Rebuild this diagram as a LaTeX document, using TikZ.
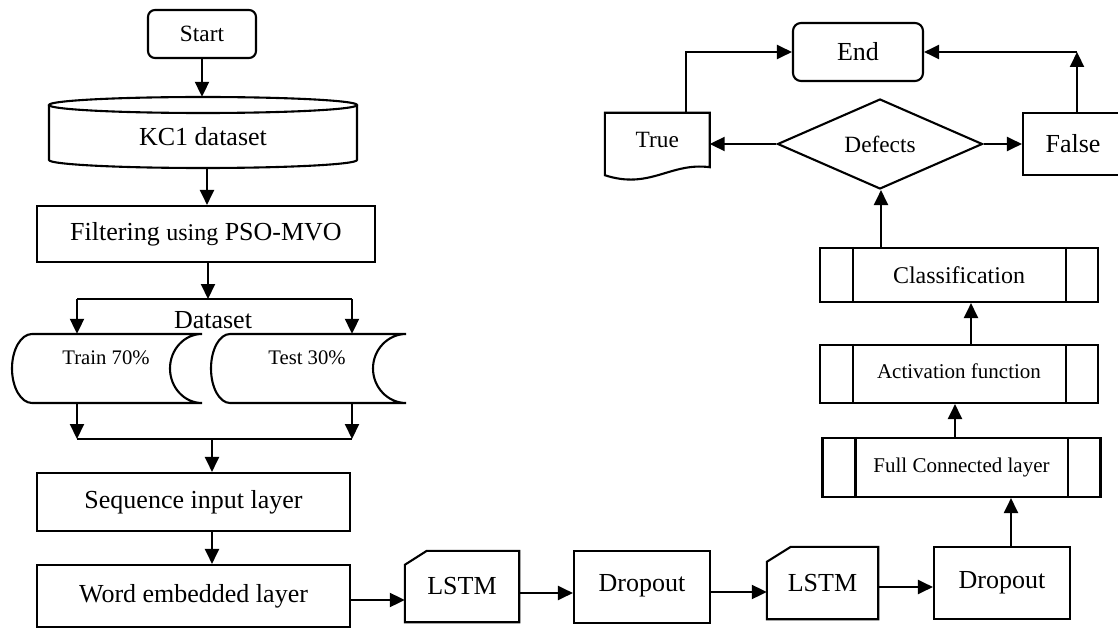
\documentclass[tikz,border=0pt]{standalone}
\usepackage{fontspec}
\setmainfont{Liberation Serif}
\usetikzlibrary{arrows.meta,shapes.geometric,calc}
\begin{document}
\begin{tikzpicture}[x=1pt,y=-1pt,
  ln/.style={line width=2.1pt},
  arr/.style={ln,-{Triangle[length=15pt,width=14pt]}},
  box/.style={draw,ln,rectangle,inner sep=0pt},
  ghost/.style={inner sep=0pt},
  fbig/.style={font=\fontsize{26}{30}\selectfont},
  fmid/.style={font=\fontsize{23.3}{27}\selectfont},
  fcls/.style={font=\fontsize{24}{28}\selectfont},
  fsma/.style={font=\fontsize{21}{25}\selectfont},
  fdat/.style={font=\fontsize{20.7}{24}\selectfont}
]
\fill[white] (0,0) rectangle (1118,628);
\clip (0,0) rectangle (1118,628);

% ---- left column ----
\node[box,rounded corners=7pt,minimum width=108pt,minimum height=48pt,fmid] (start) at (202,34) {\raisebox{-5pt}{Start}};

\node[ghost,minimum width=308pt,minimum height=71pt] (kc1) at (203,132.5) {};
\draw[ln] (203,105) ellipse [x radius=154, y radius=8];
\draw[ln] (49,105) -- (49,160) .. controls (49,164.4) and (118,168) .. (203,168) .. controls (288,168) and (357,164.4) .. (357,160) -- (357,105);
\node[fbig] (kc1txt) at (203,137) {KC1 dataset};

\node[box,minimum width=338pt,minimum height=56pt,fbig] (filter) at (206,234) {Filtering {\fontsize{24}{28}\selectfont using} PSO-MVO};

\draw[arr] (start.south) -- (start.south |- kc1.north);
\draw[arr] (kc1.south -| 207,0) -- (filter.north -| 207,0);

\coordinate (sp) at (208,299);
\coordinate (sl) at (77,299);
\coordinate (sr) at (352,299);
\node[fbig] (dslabel) at (213,320) {Dataset};

\node[ghost,minimum width=190pt,minimum height=69pt] (train) at (107,368.5) {};
\draw[ln] (32,334) -- (202,334) .. controls (184.3,334) and (170,349.5) .. (170,368.5) .. controls (170,387.5) and (184.3,403) .. (202,403) -- (32,403) .. controls (21,403) and (12,387.5) .. (12,368.5) .. controls (12,349.5) and (21,334) .. (32,334) -- cycle;
\node[fdat] (traintxt) at (106,358) {Train 70\%};

\node[ghost,minimum width=195pt,minimum height=69pt] (test) at (308.5,368.5) {};
\draw[ln] (230,334) -- (406,334) .. controls (388,334) and (373,349.5) .. (373,368.5) .. controls (373,387.5) and (388,403) .. (406,403) -- (230,403) .. controls (219.5,403) and (211,387.5) .. (211,368.5) .. controls (211,349.5) and (219.5,334) .. (230,334) -- cycle;
\node[fdat] (testtxt) at (307,358) {Test 30\%};

\draw[arr] (filter.south -| sp) -- (sp);
\draw[ln] (sl) -- (sr);
\draw[arr] (sl) -- (sl |- train.north);
\draw[arr] (sr) -- (sr |- test.north);

\coordinate (jl) at (77,439);
\coordinate (jr) at (352,439);
\coordinate (jm) at (212,439);
\draw[arr] (train.south -| jl) -- (jl);
\draw[arr] (test.south -| jr) -- (jr);
\draw[ln] (jl) -- (jr);

\node[box,minimum width=313pt,minimum height=58pt,fbig] (seq) at (193.5,502) {Sequence input layer};
\node[box,minimum width=313pt,minimum height=62pt,fbig] (word) at (193.5,596) {Word embedded layer};
\draw[arr] (jm) -- (jm |- seq.north);
\draw[arr] (seq.south -| jm) -- (word.north -| jm);

% ---- bottom row ----
\node[ghost,minimum width=114pt,minimum height=71pt,fbig] (lstma) at (462,586.5) {\raisebox{-2pt}{LSTM}};
\draw[ln] (lstma.south west) -- ($(lstma.north west)+(0,14)$) -- ($(lstma.north west)+(22,0)$) -- (lstma.north east) -- (lstma.south east) -- cycle;

\node[box,minimum width=136pt,minimum height=72pt,fbig] (dropa) at (642,587) {\raisebox{9pt}{Dropout}};

\node[ghost,minimum width=111pt,minimum height=72pt,fbig] (lstmb) at (822.5,583) {\raisebox{-4pt}{LSTM}};
\draw[ln] (lstmb.south west) -- ($(lstmb.north west)+(0,15)$) -- ($(lstmb.north west)+(24,0)$) -- (lstmb.north east) -- (lstmb.south east) -- cycle;

\node[box,minimum width=136pt,minimum height=72pt,fbig] (dropb) at (1002,583) {\raisebox{6pt}{Dropout}};

\draw[arr] (word.east |- 0,600) -- (lstma.west |- 0,600);
\draw[arr] (lstma.east |- 0,593) -- (dropa.west |- 0,593);
\draw[arr] (dropa.east |- 0,592) -- (lstmb.west |- 0,592);
\draw[arr] (lstmb.east |- 0,587) -- (dropb.west |- 0,587);

% ---- right column ----
\node[box,minimum width=278pt,minimum height=59pt,fsma] (fc) at (961.5,467.5) {\raisebox{4pt}{Full Connected layer}};
\draw[ln] ([xshift=34pt]fc.north west) -- ([xshift=34pt]fc.south west);
\draw[ln] ([xshift=-34pt]fc.north east) -- ([xshift=-34pt]fc.south east);

\node[box,minimum width=278pt,minimum height=58pt,fsma] (act) at (959,374) {\raisebox{5pt}{Activation function}};
\draw[ln] ([xshift=34pt]act.north west) -- ([xshift=34pt]act.south west);
\draw[ln] ([xshift=-33pt]act.north east) -- ([xshift=-33pt]act.south east);

\node[box,minimum width=278pt,minimum height=54pt,fcls] (cls) at (959,275) {Classification};
\draw[ln] ([xshift=34pt]cls.north west) -- ([xshift=34pt]cls.south west);
\draw[ln] ([xshift=-33pt]cls.north east) -- ([xshift=-33pt]cls.south east);

\draw[arr] (dropb.north -| 1011,0) -- (fc.south -| 1011,0);
\draw[arr] (fc.north -| 955,0) -- (act.south -| 955,0);
\draw[arr] (act.north -| 971,0) -- (cls.south -| 971,0);

\node[draw,ln,diamond,inner sep=0pt,minimum width=205pt,minimum height=90pt,aspect=2.28,fmid] (defects) at (880,144) {Defects};
\draw[arr] (cls.north -| 881,0) -- (defects.south -| 881,0);

\node[ghost,minimum width=104.5pt,minimum height=54pt,fmid] (ntrue) at (657.25,140) {True};
\draw[ln] (ntrue.north west) -- (ntrue.north east) -- (ntrue.south east) .. controls (670,162) and (650,190) .. ($(ntrue.south west)+(0,8)$) -- cycle;

\node[box,minimum width=108pt,minimum height=62pt,fbig] (nfalse) at (1077,144) {\hspace*{-8pt}False};

\node[box,rounded corners=8pt,minimum width=130pt,minimum height=58pt,fbig] (stop) at (858,52) {End};

\draw[arr] (defects.west) -- (ntrue.east |- defects.west);
\draw[arr] (defects.east) -- (nfalse.west |- defects.east);
\draw[arr] (ntrue.north -| 686,0) |- (stop.west);
\draw[arr] (nfalse.north) -- (nfalse.north |- stop.east);
\draw[arr] (nfalse.north |- stop.east) -- (stop.east);
\end{tikzpicture}
\end{document}
